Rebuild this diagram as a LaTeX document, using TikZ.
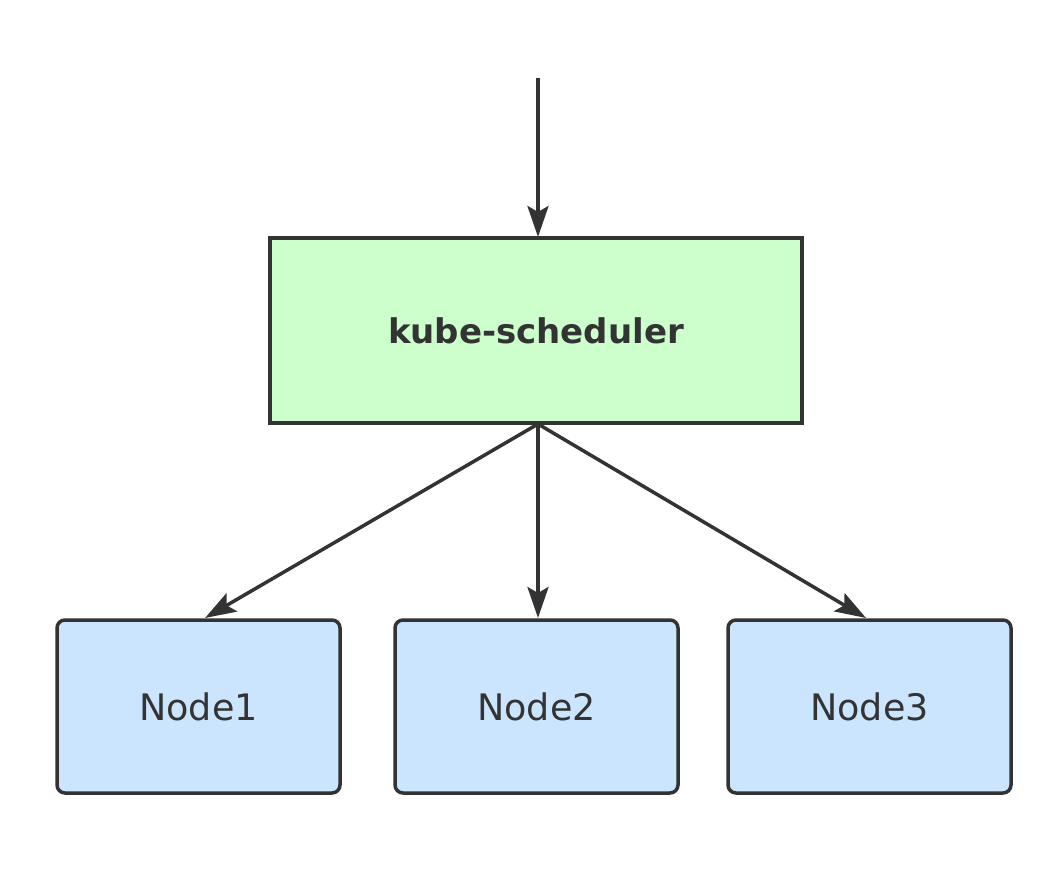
\documentclass[tikz,border=0pt]{standalone}
\usepackage{fontspec}
\setmainfont{DejaVu Sans}
\usetikzlibrary{arrows.meta}
\definecolor{strokegray}{HTML}{333333}
\definecolor{schedgreen}{HTML}{CCFFCC}
\definecolor{nodeblue}{HTML}{CCE5FF}
\tikzset{
  x=1pt, y=-1pt,
  schedbox/.style={draw=strokegray, line width=3.5pt, fill=schedgreen, minimum width=532pt, minimum height=185pt, inner sep=0pt, text=strokegray, font=\fontsize{34}{40}\selectfont\bfseries},
  hostbox/.style={draw=strokegray, line width=3.5pt, fill=nodeblue, rounded corners=8pt, minimum width=283pt, minimum height=173pt, inner sep=0pt, text=strokegray, font=\fontsize{36.5}{42}\selectfont},
  flow/.style={draw=strokegray, line width=3.5pt, -{Stealth[length=31pt,width=21pt,inset=6pt]}}
}
\begin{document}
\begin{tikzpicture}
\useasboundingbox (0,0) rectangle (1058,874);
\node[schedbox] (sched) at (536,330.5) {kube-scheduler};
\node[hostbox] (n1) at (198.5,706.5) {Node1};
\node[hostbox] (n2) at (536.5,706.5) {Node2};
\node[hostbox] (n3) at (869.5,706.5) {Node3};
\coordinate (src) at (538,78);
\coordinate (topin) at (538,237);
\coordinate (hub) at (538,424);
\coordinate (t1) at (205,618);
\coordinate (t2) at (538,618);
\coordinate (t3) at (866,618);
\draw[flow] (src) -- (topin);
\draw[flow] (hub) -- (t1);
\draw[flow] (hub) -- (t2);
\draw[flow] (hub) -- (t3);
\end{tikzpicture}
\end{document}
